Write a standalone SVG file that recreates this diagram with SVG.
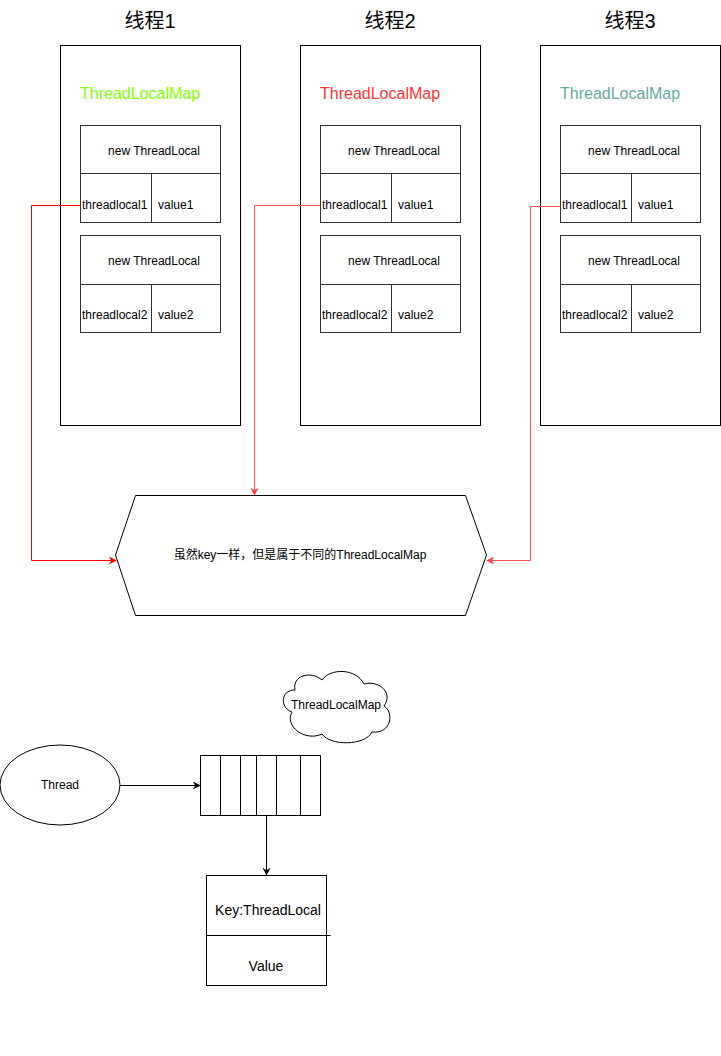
<svg xmlns="http://www.w3.org/2000/svg" width="721" height="1056" viewBox="0 0 721 1056">
<defs>
<style>
text{font-family:"Liberation Sans",Arial,"Noto Sans CJK SC",sans-serif;fill:#000}
.title{font-size:20px;text-anchor:middle}
.map{font-size:16px}
.s{font-size:12px}
.c{text-anchor:middle}
.box{fill:#fff;stroke:#000;stroke-width:1}
.in{fill:none;stroke:#333;stroke-width:1}
.conn{fill:none;stroke-width:1}
</style>
<marker id="ar" viewBox="0 0 10 10" refX="9" refY="5" markerWidth="7" markerHeight="7" orient="auto" markerUnits="userSpaceOnUse"><path d="M0,0 L10,5 L0,10 L3,5 Z" fill="context-stroke"/></marker>
<marker id="arR" viewBox="0 0 10 10" refX="9" refY="5" markerWidth="8" markerHeight="8" orient="auto" markerUnits="userSpaceOnUse"><path d="M0,0 L10,5 L0,10 L3,5 Z" fill="#f00"/></marker>
<marker id="arR2" viewBox="0 0 10 10" refX="9" refY="5" markerWidth="8" markerHeight="8" orient="auto" markerUnits="userSpaceOnUse"><path d="M0,0 L10,5 L0,10 L3,5 Z" fill="#ff4040"/></marker>
<marker id="arB" viewBox="0 0 10 10" refX="9" refY="5" markerWidth="8" markerHeight="8" orient="auto" markerUnits="userSpaceOnUse"><path d="M0,0 L10,5 L0,10 L3,5 Z" fill="#000"/></marker>
</defs>

<g id="thread1">
<text class="title" x="150" y="28">线程1</text>
<rect class="box" x="60.5" y="45.5" width="180" height="380"/>
<text class="map" x="80" y="99" fill="#80ff00" style="fill:#80ff00">ThreadLocalMap</text>
<rect class="in" x="80.5" y="125.5" width="140" height="97"/>
<line class="in" x1="80.5" y1="173.5" x2="220.5" y2="173.5"/>
<line class="in" x1="151.5" y1="173.5" x2="151.5" y2="222.5"/>
<text class="s c" x="154" y="155">new ThreadLocal</text>
<text class="s" x="82" y="209">threadlocal1</text>
<text class="s" x="158" y="209">value1</text>
<rect class="in" x="80.5" y="235.5" width="140" height="97"/>
<line class="in" x1="80.5" y1="284.5" x2="220.5" y2="284.5"/>
<line class="in" x1="151.5" y1="284.5" x2="151.5" y2="332.5"/>
<text class="s c" x="154" y="265">new ThreadLocal</text>
<text class="s" x="82" y="319">threadlocal2</text>
<text class="s" x="158" y="319">value2</text>
</g>

<g id="thread2">
<text class="title" x="390" y="28">线程2</text>
<rect class="box" x="300.5" y="45.5" width="180" height="380"/>
<text class="map" x="320" y="99" style="fill:#ff3333">ThreadLocalMap</text>
<rect class="in" x="320.5" y="125.5" width="140" height="97"/>
<line class="in" x1="320.5" y1="173.5" x2="460.5" y2="173.5"/>
<line class="in" x1="391.5" y1="173.5" x2="391.5" y2="222.5"/>
<text class="s c" x="394" y="155">new ThreadLocal</text>
<text class="s" x="322" y="209">threadlocal1</text>
<text class="s" x="398" y="209">value1</text>
<rect class="in" x="320.5" y="235.5" width="140" height="97"/>
<line class="in" x1="320.5" y1="284.5" x2="460.5" y2="284.5"/>
<line class="in" x1="391.5" y1="284.5" x2="391.5" y2="332.5"/>
<text class="s c" x="394" y="265">new ThreadLocal</text>
<text class="s" x="322" y="319">threadlocal2</text>
<text class="s" x="398" y="319">value2</text>
</g>

<g id="thread3">
<text class="title" x="630" y="28">线程3</text>
<rect class="box" x="540.5" y="45.5" width="180" height="380"/>
<text class="map" x="560" y="99" style="fill:#67ab9f">ThreadLocalMap</text>
<rect class="in" x="560.5" y="125.5" width="140" height="97"/>
<line class="in" x1="560.5" y1="173.5" x2="700.5" y2="173.5"/>
<line class="in" x1="631.5" y1="173.5" x2="631.5" y2="222.5"/>
<text class="s c" x="634" y="155">new ThreadLocal</text>
<text class="s" x="562" y="209">threadlocal1</text>
<text class="s" x="638" y="209">value1</text>
<rect class="in" x="560.5" y="235.5" width="140" height="97"/>
<line class="in" x1="560.5" y1="284.5" x2="700.5" y2="284.5"/>
<line class="in" x1="631.5" y1="284.5" x2="631.5" y2="332.5"/>
<text class="s c" x="634" y="265">new ThreadLocal</text>
<text class="s" x="562" y="319">threadlocal2</text>
<text class="s" x="638" y="319">value2</text>
</g>

<g id="hexagon">
<polygon class="box" points="115.5,555 135.5,495.5 465.5,495.5 486.5,555 465.5,615.5 135.5,615.5"/>
<text class="s c" x="300" y="559">虽然key一样，但是属于不同的ThreadLocalMap</text>
</g>

<g id="cloud">
<path class="box" d="M295,690 C280,690 280,708 292,712 C284,726 305,742 322,734 C330,746 365,746 372,732 C392,734 394,712 384,706 C394,692 378,680 364,684 C356,668 330,668 322,680 C310,670 292,676 295,690 Z"/>
<text class="s c" x="336" y="709">ThreadLocalMap</text>
</g>

<g id="thread">
<ellipse class="box" cx="60" cy="785" rx="60" ry="40"/>
<text class="s c" x="60" y="789">Thread</text>
</g>

<g id="array">
<rect class="box" x="200.5" y="755.5" width="120" height="60"/>
<line class="in" style="stroke:#000" x1="220.5" y1="755.5" x2="220.5" y2="815.5"/>
<line class="in" style="stroke:#000" x1="240.5" y1="755.5" x2="240.5" y2="815.5"/>
<line class="in" style="stroke:#000" x1="256.5" y1="755.5" x2="256.5" y2="815.5"/>
<line class="in" style="stroke:#000" x1="276.5" y1="755.5" x2="276.5" y2="815.5"/>
<line class="in" style="stroke:#000" x1="300.5" y1="755.5" x2="300.5" y2="815.5"/>
</g>

<g id="entry">
<rect class="box" x="206.5" y="875.5" width="120" height="110"/>
<line class="in" style="stroke:#000" x1="206.5" y1="935.5" x2="330.5" y2="935.5"/>
<text class="c" style="font-size:14px" x="268" y="915">Key:ThreadLocal</text>
<text class="c" style="font-size:14px" x="266" y="971">Value</text>
</g>

<g id="connectors">
<polyline class="conn" stroke="#ff0000" points="80,205.5 31.5,205.5 31.5,560.5 116,560.5" marker-end="url(#arR)"/>
<polyline class="conn" stroke="#ff5555" points="320,205.5 254.5,205.5 254.5,495" marker-end="url(#arR2)"/>
<polyline class="conn" stroke="#ff5555" points="560,206.5 530.5,206.5 530.5,560.5 487,560.5" marker-end="url(#arR2)"/>
<line class="conn" stroke="#000" x1="120" y1="785.5" x2="200" y2="785.5" marker-end="url(#arB)"/>
<line class="conn" stroke="#000" x1="266.5" y1="815.5" x2="266.5" y2="875" marker-end="url(#arB)"/>
</g>
</svg>
